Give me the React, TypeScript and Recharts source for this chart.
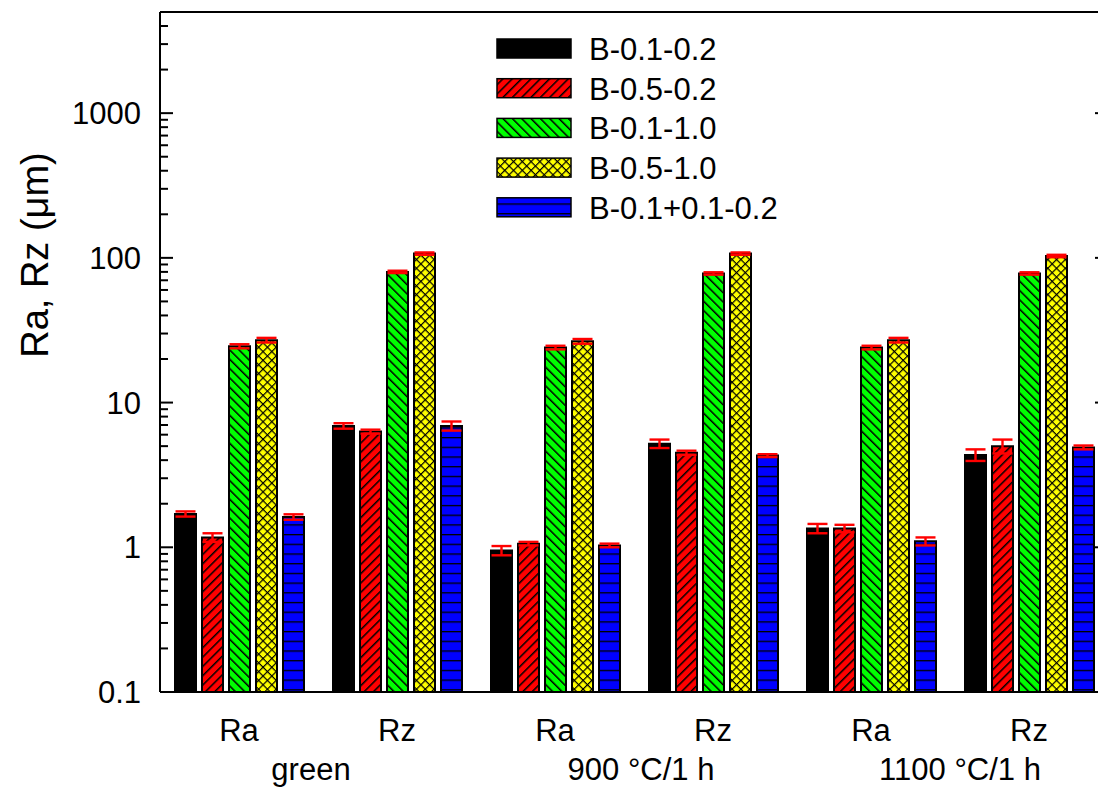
import React from 'react';
import { BarChart, Bar, XAxis, YAxis, ErrorBar, Legend, ReferenceLine } from 'recharts';

const categories = ['Ra', 'Rz', 'Ra', 'Rz', 'Ra', 'Rz'];
const groupLabels = ['green', '900 °C/1 h', '1100 °C/1 h'];
const seriesNames = ['B-0.1-0.2', 'B-0.5-0.2', 'B-0.1-1.0', 'B-0.5-1.0', 'B-0.1+0.1-0.2'];

const b01_02 = [1.7, 6.9, 0.95, 5.2, 1.35, 4.35];
const b01_02Err = [0.07, 0.3, 0.07, 0.35, 0.1, 0.4];
const b05_02 = [1.17, 6.3, 1.06, 4.5, 1.35, 5.0];
const b05_02Err = [0.08, 0.2, 0.03, 0.15, 0.08, 0.55];
const b01_10 = [24.5, 80, 24, 78, 24, 78];
const b01_10Err = [0.8, 1.5, 0.7, 1.5, 0.7, 1.5];
const b05_10 = [27, 107, 26.5, 107, 27, 103];
const b05_10Err = [1, 2, 1, 2, 1, 2];
const b01p01_02 = [1.62, 6.9, 1.03, 4.3, 1.1, 4.9];
const b01p01_02Err = [0.07, 0.5, 0.03, 0.1, 0.07, 0.15];

const majorTicks = [0.1, 1, 10, 100, 1000];
const allTicks = [
  0.1, 0.2, 0.3, 0.4, 0.5, 0.6, 0.7, 0.8, 0.9,
  1, 2, 3, 4, 5, 6, 7, 8, 9,
  10, 20, 30, 40, 50, 60, 70, 80, 90,
  100, 200, 300, 400, 500, 600, 700, 800, 900,
  1000, 2000, 3000, 4000,
];

const seriesValues = [b01_02, b05_02, b01_10, b05_10, b01p01_02];
const seriesErrors = [b01_02Err, b05_02Err, b01_10Err, b05_10Err, b01p01_02Err];
const fills = ['#000000', 'url(#pRed)', 'url(#pGreen)', 'url(#pYellow)', 'url(#pBlue)'];

const data = categories.map((c, i) => {
  const row: any = { key: `${c}${i}`, cat: c };
  seriesValues.forEach((s, j) => {
    row[`s${j}`] = s[i];
    row[`e${j}`] = seriesErrors[j][i];
  });
  return row;
});

const FONT = '"Liberation Sans", Arial, Helvetica, sans-serif';
const FS = 31;
const groupShift = [-7, 7, 10];

const LeftTick = (props: any) => {
  const { x, y, payload } = props;
  const major = majorTicks.includes(payload.value);
  return (
    <g>
      <line x1={x} y1={y} x2={x + (major ? 13 : 8)} y2={y} stroke="#000" strokeWidth={2} />
      {major && (
        <text x={x - 19} y={y} dy={11} textAnchor="end" fontSize={FS} fill="#000" fontFamily={FONT}>
          {String(payload.value)}
        </text>
      )}
    </g>
  );
};

const RightTick = (props: any) => {
  const { x, y, payload } = props;
  const major = majorTicks.includes(payload.value);
  return <line x1={x} y1={y} x2={x - (major ? 13 : 8)} y2={y} stroke="#000" strokeWidth={2} />;
};

const XTick = (props: any) => {
  const { x, y, payload, index } = props;
  const i = typeof index === 'number' ? index : payload.index;
  return (
    <g>
      <text x={x} y={y + 49} textAnchor="middle" fontSize={FS} fill="#000" fontFamily={FONT}>
        {categories[i]}
      </text>
      {i % 2 === 0 && (
        <text x={x + 79 + groupShift[i / 2]} y={y + 88} textAnchor="middle" fontSize={FS} fill="#000" fontFamily={FONT}>
          {groupLabels[i / 2]}
        </text>
      )}
    </g>
  );
};

const YTitle = () => (
  <text
    x={35}
    y={255}
    transform="rotate(-90 35 255)"
    textAnchor="middle"
    dominantBaseline="central"
    fontSize={38}
    fill="#000"
    fontFamily={FONT}
  >
    Ra, Rz (μm)
  </text>
);

const LegendContent = () => (
  <svg width={380} height={200} style={{ overflow: 'visible' }}>
    {seriesNames.map((n, i) => (
      <g key={n}>
        <rect x={1} y={1 + i * 39.7} width={74} height={19} fill={fills[i]} stroke="#000" strokeWidth={1.5} />
        <text x={93} y={i * 39.7 + 11} dy={11} fontSize={FS} fill="#000" fontFamily={FONT}>
          {n}
        </text>
      </g>
    ))}
  </svg>
);

export default function App() {
  return (
    <div style={{ position: 'fixed', left: 0, top: 0, width: 1098, height: 788, overflow: 'hidden', background: '#fff' }}>
      <BarChart
        width={1120}
        height={788}
        data={data}
        margin={{ top: 12, right: 0, bottom: 0, left: 0 }}
        barSize={21}
        barGap={6}
        style={{ fontFamily: FONT }}
      >
        <defs>
          <pattern id="pRed" patternUnits="userSpaceOnUse" width="6.6" height="6.6" patternTransform="rotate(45)">
            <rect width="6.6" height="6.6" fill="#ff0000" />
            <line x1="0" y1="-1" x2="0" y2="8" stroke="#000" strokeWidth="3" />
          </pattern>
          <pattern id="pGreen" patternUnits="userSpaceOnUse" width="6.6" height="6.6" patternTransform="rotate(-45)">
            <rect width="6.6" height="6.6" fill="#00ff00" />
            <line x1="0" y1="-1" x2="0" y2="8" stroke="#000" strokeWidth="3" />
          </pattern>
          <pattern id="pYellow" patternUnits="userSpaceOnUse" width="6.2" height="6.2" patternTransform="rotate(45)">
            <rect width="6.2" height="6.2" fill="#ffff00" />
            <line x1="0" y1="-1" x2="0" y2="8" stroke="#000" strokeWidth="2.4" />
            <line x1="-1" y1="0" x2="8" y2="0" stroke="#000" strokeWidth="2.4" />
          </pattern>
          <pattern id="pBlue" patternUnits="userSpaceOnUse" width="10" height="9.7" y="0.5">
            <rect width="10" height="9.7" fill="#0000ff" />
            <line x1="-1" y1="0" x2="11" y2="0" stroke="#000" strokeWidth="2.6" />
          </pattern>
        </defs>
        <XAxis
          dataKey="key"
          axisLine={{ stroke: '#000', strokeWidth: 2 }}
          tickLine={false}
          tickSize={0}
          tickMargin={0}
          height={96}
          interval={0}
          tick={<XTick />}
        />
        <YAxis
          yAxisId="left"
          scale="log"
          domain={[0.1, 5000]}
          allowDataOverflow
          ticks={allTicks}
          interval={0}
          width={160}
          axisLine={{ stroke: '#000', strokeWidth: 2 }}
          tickLine={false}
          tickSize={0}
          tickMargin={0}
          tick={<LeftTick />}
          label={<YTitle />}
        />
        <YAxis
          yAxisId="right"
          orientation="right"
          scale="log"
          domain={[0.1, 5000]}
          allowDataOverflow
          ticks={allTicks}
          interval={0}
          width={12}
          axisLine={{ stroke: '#000', strokeWidth: 2 }}
          tickLine={false}
          tickSize={0}
          tickMargin={0}
          tick={<RightTick />}
        />
        <ReferenceLine yAxisId="left" y={5000} stroke="#000" strokeWidth={2} />
        <Legend
          layout="vertical"
          align="center"
          verticalAlign="middle"
          content={<LegendContent />}
          wrapperStyle={{ left: 496, top: 38, width: 380, height: 200 }}
        />
        {seriesNames.map((n, j) => (
          <Bar
            key={n}
            yAxisId="left"
            dataKey={`s${j}`}
            name={n}
            fill={fills[j]}
            stroke="#000"
            strokeWidth={2}
            isAnimationActive={false}
          >
            <ErrorBar dataKey={`e${j}`} direction="y" width={10} stroke="#ff0000" strokeWidth={2.4} isAnimationActive={false} />
          </Bar>
        ))}
      </BarChart>
    </div>
  );
}
